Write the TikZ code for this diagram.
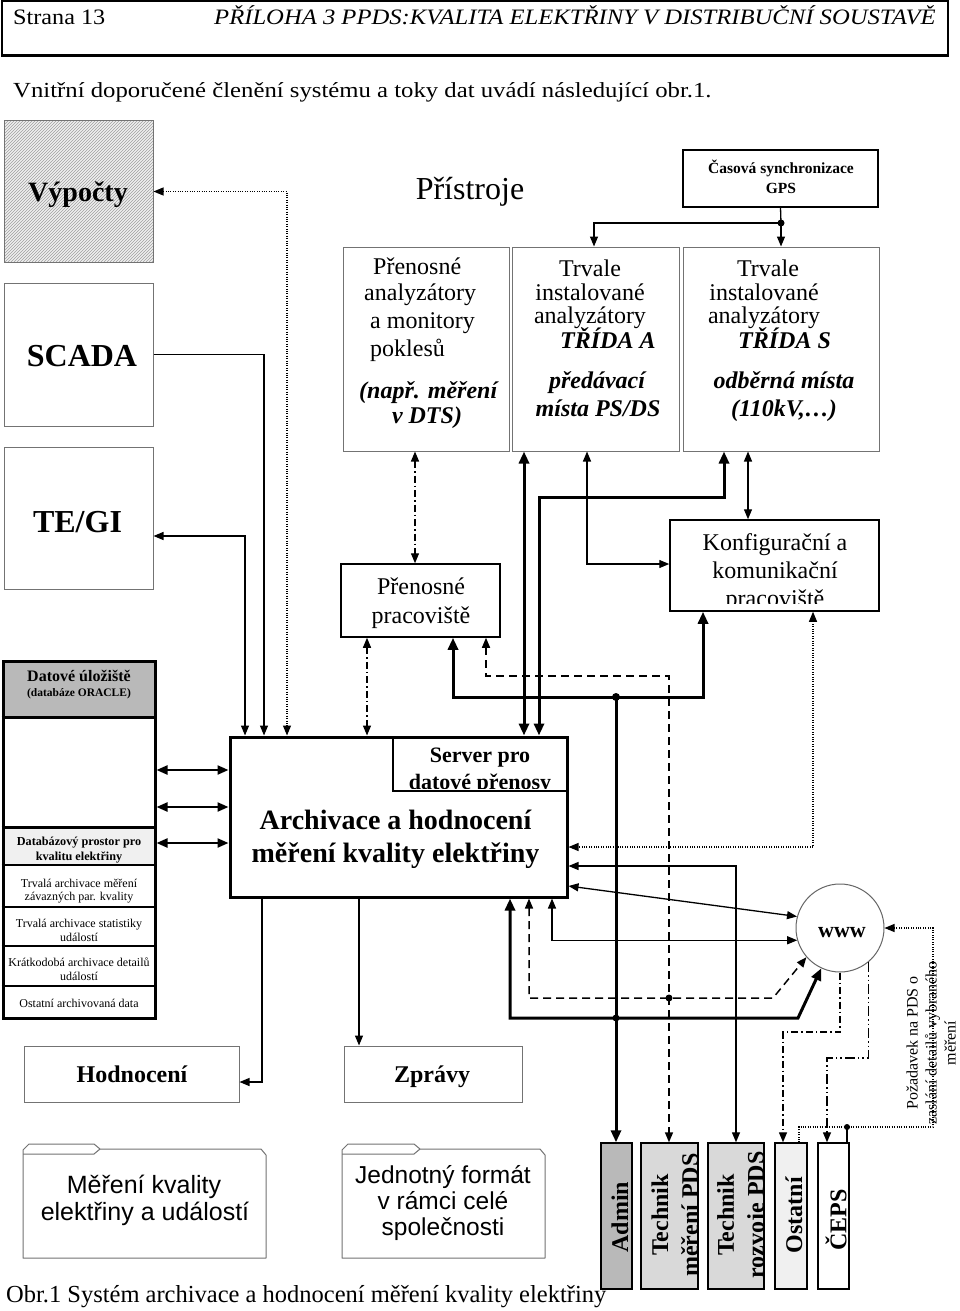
\documentclass[tikz,border=0pt]{standalone}
\usepackage{fontspec}
\setmainfont{Liberation Serif}
\newfontfamily\arialf{Liberation Sans}
\usetikzlibrary{arrows.meta,patterns}
\newcommand\myfs[2]{\fontsize{#1}{#2}\selectfont}
\begin{document}
\begin{tikzpicture}[x=1pt,y=-1pt,
  gbox/.style={draw=black!55, line width=1pt, inner sep=0pt},
  bbox/.style={draw=black, line width=1.5pt, inner sep=0pt},
  txt/.style={inner sep=0pt, anchor=base},
  txtw/.style={inner sep=0pt, anchor=base west},
  thn/.style={line width=1.3pt, >={Triangle[length=10pt,width=8pt]}},
  thk/.style={line width=3pt, >={Triangle[length=12pt,width=10pt]}},
  sarr/.style={line width=2.2pt, >={Triangle[length=11pt,width=9pt]}},
  dotl/.style={line width=1.1pt, dash pattern=on 1pt off 1.4pt, >={Triangle[length=10pt,width=8pt]}},
  dashl/.style={line width=1.5pt, dash pattern=on 8pt off 5pt, >={Triangle[length=10pt,width=8pt]}},
  ddot/.style={line width=1.3pt, dash pattern=on 7pt off 3pt on 1.5pt off 3pt, >={Triangle[length=10pt,width=8pt]}},
  ddot2/.style={line width=1.3pt, dash pattern=on 10pt off 3pt on 1.5pt off 3pt on 1.5pt off 3pt, >={Triangle[length=10pt,width=8pt]}},
  jdot/.style={circle, fill=black, inner sep=0pt, minimum size=7pt},
  role/.style={draw=black, line width=1.4pt, inner sep=0pt, minimum height=146},
  rtxt/.style={rotate=90, inner sep=0pt, font=\bfseries\myfs{24}{30}, align=center},
  fold/.style={draw=black!55, line width=1pt, line join=round},
]
\useasboundingbox (0,0) rectangle (960,1311);
\fill[white] (0,0) rectangle (960,1311);

% header
\node[draw=black, line width=1.2pt, minimum width=946, minimum height=54, inner sep=0pt] (HD) at (475,28) {};
\draw[line width=2.2pt] (HD.south west) -- (HD.south east);
\node[txtw] (HDa) at (13,25) {\myfs{22}{24}\scalebox{1.1}[1]{Strana 13}};
\node[txtw] (HDb) at (214,25) {\myfs{22}{24}\itshape\scalebox{1.12}[1]{PŘÍLOHA 3 PPDS:KVALITA ELEKTŘINY V DISTRIBUČNÍ SOUSTAVĚ}};
\node[txtw] (INTRO) at (13,98) {\myfs{21.5}{24}\scalebox{1.15}[1]{Vnitřní doporučené členění systému a toky dat uvádí následující obr.1.}};

% left column
\node[gbox, minimum width=149, minimum height=141, preaction={fill=gray!12}, pattern=north east lines, pattern color=gray!75] (VY) at (78.5,191.5) {};
\node[txt, font=\bfseries\myfs{28}{30}] (VYt) at (78,201) {Výpočty};
\node[gbox, minimum width=149, minimum height=143] (SC) at (78.5,354.5) {};
\node[txt, font=\bfseries\myfs{32}{34}] (SCt) at (82,366) {SCADA};
\node[gbox, minimum width=149, minimum height=142] (TE) at (78.5,518) {};
\node[txt, font=\bfseries\myfs{32}{34}] (TEt) at (77.5,532) {TE/GI};

% instruments
\node[txt, font=\myfs{32}{34}] (PR) at (470,199) {Přístroje};
\node[bbox, minimum width=195, minimum height=57] (GP) at (780.5,178.5) {};
\node[txt, font=\bfseries\myfs{15.5}{18}] (GPa) at (781,173) {Časová synchronizace};
\node[txt, font=\bfseries\myfs{15.5}{18}] (GPb) at (781,193) {GPS};

\node[gbox, minimum width=166, minimum height=204] (PA) at (426,349) {};
\node[txtw, font=\myfs{24}{26}] (PA1) at (373,274) {Přenosné};
\node[txtw, font=\myfs{24}{26}] (PA2) at (364,300) {analyzátory};
\node[txtw, font=\myfs{24}{26}] (PA3) at (370,328) {a monitory};
\node[txtw, font=\myfs{24}{26}] (PA4) at (370,356) {poklesů};
\node[txtw, font=\bfseries\itshape\myfs{24}{26}] (PA5) at (359,398) {(např. měření};
\node[txt, font=\bfseries\itshape\myfs{24}{26}] (PA6) at (427,423) {v DTS)};

\node[gbox, minimum width=167, minimum height=204] (TA) at (595.5,349) {};
\node[txt, font=\myfs{24}{26}] (TA1) at (590,276) {Trvale};
\node[txt, font=\myfs{24}{26}] (TA2) at (590,300) {instalované};
\node[txt, font=\myfs{24}{26}] (TA3) at (590,323) {analyzátory};
\node[txtw, font=\bfseries\itshape\myfs{24}{26}] (TA4) at (560,348) {TŘÍDA A};
\node[txt, font=\bfseries\itshape\myfs{24}{26}] (TA5) at (597,388) {předávací};
\node[txt, font=\bfseries\itshape\myfs{24}{26}] (TA6) at (598,416) {místa PS/DS};

\node[gbox, minimum width=196, minimum height=204] (TS) at (781,349) {};
\node[txt, font=\myfs{24}{26}] (TS1) at (768,276) {Trvale};
\node[txt, font=\myfs{24}{26}] (TS2) at (764,300) {instalované};
\node[txt, font=\myfs{24}{26}] (TS3) at (764,323) {analyzátory};
\node[txtw, font=\bfseries\itshape\myfs{24}{26}] (TS4) at (738,348) {TŘÍDA S};
\node[txt, font=\bfseries\itshape\myfs{24}{26}] (TS5) at (784,388) {odběrná místa};
\node[txt, font=\bfseries\itshape\myfs{24}{26}] (TS6) at (784,416) {(110kV,…)};

% workplaces
\node[bbox, minimum width=159, minimum height=73] (PP) at (420.5,600.5) {};
\node[txt, font=\myfs{24}{26}] (PP1) at (421,594) {Přenosné};
\node[txt, font=\myfs{24}{26}] (PP2) at (421,623) {pracoviště};

\node[bbox, minimum width=209, minimum height=91] (KK) at (774.5,565.5) {};
\node[txt, font=\myfs{24}{26}] (KK1) at (775,550) {Konfigurační a};
\node[txt, font=\myfs{24}{26}] (KK2) at (775,578) {komunikační};
\begin{scope}
  \clip (672,585) rectangle (877,603);
  \node[txt, font=\myfs{24}{26}] (KK3) at (775,606) {pracoviště};
\end{scope}

% archive
\node[draw=black, line width=3pt, inner sep=0pt, minimum width=337, minimum height=160] (AR) at (398.5,817) {};
\node[draw=black, line width=1.6pt, inner sep=0pt, minimum width=174, minimum height=54] (SV) at (480,764) {};
\node[txt, font=\bfseries\myfs{22}{24}] (SV1) at (480,762) {Server pro};
\begin{scope}
  \clip (395,766) rectangle (565,788);
  \node[txt, font=\bfseries\myfs{22}{24}] (SV2) at (480,789) {datové přenosy};
\end{scope}
\node[txt, font=\bfseries\myfs{28}{30}] (AR1) at (395.5,829) {Archivace a hodnocení};
\node[txt, font=\bfseries\myfs{28}{30}] (AR2) at (395.5,862) {měření kvality elektřiny};

% data storage
\fill[gray!55] (3,661) rectangle (155,717);
\fill[gray!12] (3,827) rectangle (155,865);
\node[draw=black, line width=3pt, inner sep=0pt, minimum width=152, minimum height=357] (DB) at (79,839.5) {};
\draw[line width=3pt] (DB.west |- 0,717) -- (DB.east |- 0,717);
\draw[line width=3pt] (DB.west |- 0,827) -- (DB.east |- 0,827);
\draw[line width=2.4pt] (DB.west |- 0,865) -- (DB.east |- 0,865);
\draw[line width=1.8pt] (DB.west |- 0,907) -- (DB.east |- 0,907);
\draw[line width=1.8pt] (DB.west |- 0,946) -- (DB.east |- 0,946);
\draw[line width=1.8pt] (DB.west |- 0,986) -- (DB.east |- 0,986);
\node[txt, font=\bfseries\myfs{16}{18}] (DB1) at (79,681) {Datové úložiště};
\node[txt, font=\bfseries\myfs{11.5}{13}] (DB2) at (79,696) {(databáze ORACLE)};
\node[txt, font=\bfseries\myfs{12.2}{14}] (DB3) at (79,845) {Databázový prostor pro};
\node[txt, font=\bfseries\myfs{12.2}{14}] (DB4) at (79,860) {kvalitu elektřiny};
\node[txt, font=\myfs{12}{14}] (DB5) at (79,887) {Trvalá archivace měření};
\node[txt, font=\myfs{12}{14}] (DB6) at (79,900) {závazných par. kvality};
\node[txt, font=\myfs{12}{14}] (DB7) at (79,927) {Trvalá archivace statistiky};
\node[txt, font=\myfs{12}{14}] (DB8) at (79,941) {událostí};
\node[txt, font=\myfs{12}{14}] (DB9) at (79,966) {Krátkodobá archivace detailů};
\node[txt, font=\myfs{12}{14}] (DB10) at (79,980) {událostí};
\node[txt, font=\myfs{12}{14}] (DB11) at (79,1007) {Ostatní archivovaná data};

% outputs
\node[gbox, minimum width=215, minimum height=56] (HO) at (131.5,1074) {};
\node[txt, font=\bfseries\myfs{24}{26}] (HOt) at (132,1082) {Hodnocení};
\node[gbox, minimum width=178, minimum height=56] (ZP) at (433,1074) {};
\node[txt, font=\bfseries\myfs{24}{26}] (ZPt) at (432,1082) {Zprávy};

\node[circle, draw=black!60, line width=1pt, minimum size=88, inner sep=0pt] (WW) at (840,928) {};
\node[txt, font=\bfseries\myfs{22}{24}] (WWt) at (842,937) {www};

\node[rotate=90, align=center, inner sep=0pt, font=\myfs{16}{19}] (REQ) at (931,1043) {Požadavek na PDS o\\zaslání detailů vybraného\\měření};

% roles
\node[role, fill=gray!55, minimum width=31] (AD) at (616.5,1216) {};
\node[role, fill=gray!30, minimum width=57] (TM) at (669.5,1216) {};
\node[role, fill=gray!30, minimum width=56] (TR) at (736,1216) {};
\node[role, fill=gray!12, minimum width=32] (OS) at (791,1216) {};
\node[role, fill=white, minimum width=31] (CE) at (833.5,1216) {};
\node[rtxt] (ADt) at (620,1217) {Admin};
\begin{scope}
  \clip (642,1144) rectangle (697,1288);
  \node[rtxt] (TMt) at (675,1215) {Technik\\měření PDS};
\end{scope}
\begin{scope}
  \clip (709,1144) rectangle (763,1288);
  \node[rtxt] (TRt) at (743,1215) {Technik\\rozvoje PDS};
\end{scope}
\node[rtxt] (OSt) at (794,1215) {Ostatní};
\node[rtxt] (CEt) at (836,1220) {ČEPS};

% folders
\draw[fold] (23,1258) -- (23,1150) -- (29,1144) -- (94,1144) -- (100,1149) -- (261,1149) -- (266,1155) -- (266,1258) -- cycle;
\draw[fold] (23,1154) -- (94,1154) -- (100,1149);
\draw[fold] (342,1258) -- (342,1150) -- (348,1144) -- (414,1144) -- (420,1149) -- (540,1149) -- (545,1155) -- (545,1258) -- cycle;
\draw[fold] (342,1154) -- (414,1154) -- (420,1149);
\node[txt, font=\arialf\myfs{25}{27}] (F1a) at (144,1193) {Měření kvality};
\node[txt, font=\arialf\myfs{25}{27}] (F1b) at (145,1220) {elektřiny a událostí};
\node[txt, font=\arialf\myfs{24.5}{26}] (F2a) at (443,1183) {Jednotný formát};
\node[txt, font=\arialf\myfs{24.5}{26}] (F2b) at (443,1209) {v rámci celé};
\node[txt, font=\arialf\myfs{24.5}{26}] (F2c) at (443,1235) {společnosti};

\node[txtw, font=\myfs{24.5}{26}] (CAP) at (6,1302) {Obr.1 Systém archivace a hodnocení měření kvality elektřiny};

% ---------- connectors ----------
\node[jdot] (J0) at (781,223) {};
\draw[thn] (GP.south) -- (J0.center);
\draw[thn,->] (J0.center) -| (594,0 |- TA.north);
\draw[thn,->] (J0.center) -- (781,0 |- TS.north);

\draw[dotl,<->] (VY.east) -| (287,0 |- AR.north);
\draw[thn,->] (SC.east) -| (264,0 |- AR.north);
\draw[thn,<->] (TE.east |- 0,536) -| (245,0 |- AR.north);

\draw[ddot,<->] (415,0 |- PA.south) -- (415,0 |- PP.north);
\draw[ddot,<->] (367,0 |- PP.south) -- (367,0 |- AR.north);

\node[jdot, minimum size=8] (J1) at (616,697) {};
\draw[thk,<->] (453,0 |- PP.south) |- (J1.center) -| (703,0 |- KK.south);
\draw[thk,->] (J1.center) -- (J1.center |- AD.north);

\draw[thk,<->] (524,0 |- TA.south) -- (524,0 |- AR.north);
\draw[thk,<->] (724,0 |- TS.south) |- (539,497) -- (539,0 |- AR.north);

\draw[thn,<->] (587,0 |- TA.south) |- (KK.west |- 0,564);
\draw[thn,<->] (748,0 |- TS.south) -- (748,0 |- KK.north);
\draw[dotl,<->] (813,0 |- KK.south) |- (AR.east |- 0,847);

\draw[dashl,<->] (486,0 |- PP.south) |- (669,676) -- (669,0 |- TM.north);

\draw[thn,<->] (AR.east |- 0,866) -| (736,0 |- TR.north);
\draw[thn,<->] (AR.east |- 0,886) -- (WW.165);
\draw[thn,<->] (552,0 |- AR.south) |- (WW.196);
\draw[dashl,<->] (529,0 |- AR.south) |- (773,998) -- (WW.221);
\node[jdot] (J2) at (669,998) {};
\draw[thk,<->] (510,0 |- AR.south) |- (798,1018) -- (WW.245);
\node[jdot] (J3) at (616,1018) {};

\draw[thn,->] (262,0 |- AR.south) |- (HO.east |- 0,1082);
\draw[thn,->] (359,0 |- AR.south) -- (359,0 |- ZP.north);

\draw[ddot,->] (WW.south) |- (783,1032) -- (783,0 |- OS.north);
\draw[ddot2,->] (WW.-50) |- (827,1058) -- (827,0 |- CE.north);
\draw[dotl,->] (799,0 |- OS.north) |- (933,1127) |- (WW.east);
\node[jdot, minimum size=6] (J4) at (847,1127) {};
\draw[thn] (J4.center) -- (J4.center |- CE.north);

\draw[sarr,<->] (DB.east |- 0,770) -- (AR.west |- 0,770);
\draw[sarr,<->] (DB.east |- 0,807) -- (AR.west |- 0,807);
\draw[sarr,<->] (DB.east |- 0,843) -- (AR.west |- 0,843);
\end{tikzpicture}
\end{document}
